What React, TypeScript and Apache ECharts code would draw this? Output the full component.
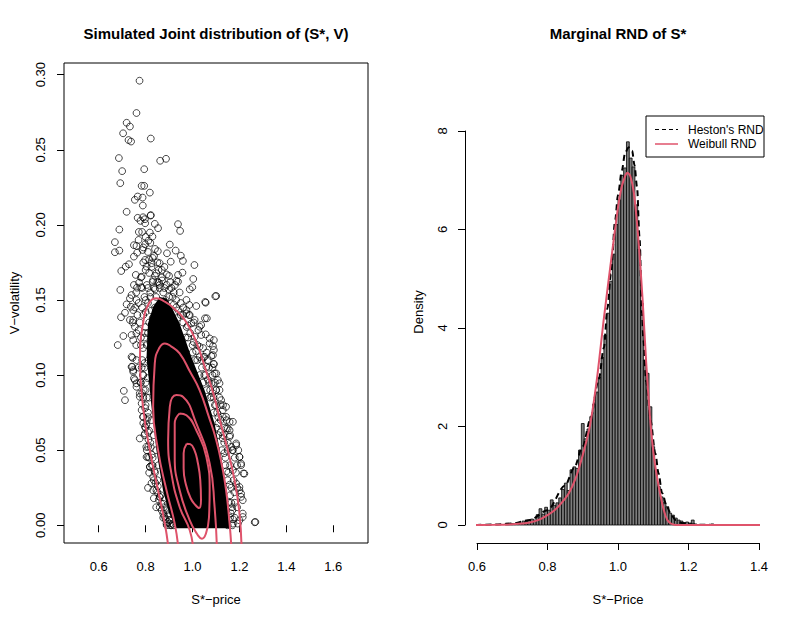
import React, { useEffect, useRef } from "react";
import * as echarts from "echarts";

const FONT = '"Liberation Sans", Arial, Helvetica, sans-serif';
const RED = "#DF536B";

// ---------- Left panel: joint distribution ----------
const jointXTicks = [0.6, 0.8, 1.0, 1.2, 1.4, 1.6];
const jointYTicks = [0, 0.05, 0.1, 0.15, 0.2, 0.25, 0.3];

const scatterPoints: [number, number][] = [
  [0.774, 0.296], [0.761, 0.2745], [0.719, 0.268], [0.733, 0.2655], [0.704, 0.261], [0.727, 0.2565], [0.738, 0.2555],
  [0.822, 0.2575], [0.686, 0.2445], [0.862, 0.2427], [0.887, 0.244], [0.7, 0.2358], [0.794, 0.2371], [0.692, 0.2278],
  [0.783, 0.226], [0.794, 0.226], [0.818, 0.2215], [0.766, 0.2189], [0.787, 0.2182], [0.754, 0.2167], [0.788, 0.2129],
  [0.719, 0.2087], [0.766, 0.2047], [0.797, 0.2038], [0.822, 0.2065],
  [0.789, 0.2051], [0.821, 0.2062], [0.798, 0.2011], [0.778, 0.2027], [0.839, 0.2007], [0.853, 0.1978], [0.938, 0.2005],
  [0.947, 0.196], [0.688, 0.1969], [0.771, 0.1953], [0.785, 0.1953], [0.818, 0.1949], [0.829, 0.1922], [0.812, 0.1895],
  [0.798, 0.1871], [0.669, 0.1885], [0.669, 0.1818], [0.688, 0.1829], [0.75, 0.1865], [0.761, 0.186], [0.787, 0.1833],
  [0.764, 0.1815], [0.75, 0.1789], [0.903, 0.1869], [0.891, 0.1811], [0.928, 0.1829], [0.95, 0.1795], [0.959, 0.176],
  [0.907, 0.1755], [1.008, 0.1733], [0.852, 0.1825], [0.836, 0.1793], [0.815, 0.1771], [0.826, 0.1745], [0.804, 0.1722],
  [0.798, 0.1767], [0.729, 0.1738], [0.715, 0.1722], [0.696, 0.1693], [0.86, 0.1745], [0.869, 0.17], [0.846, 0.1678],
  [0.832, 0.1633], [0.857, 0.1615], [0.938, 0.1667], [0.957, 0.1682], [0.931, 0.1627], [0.938, 0.1622], [1.003, 0.164],
  [0.988, 0.1571], [0.999, 0.1585], [1.054, 0.1487], [1.097, 0.1525], [0.758, 0.1667], [0.783, 0.1655], [0.772, 0.1615],
  [0.763, 0.1582], [0.781, 0.1585], [0.692, 0.1567], [0.733, 0.1511], [0.719, 0.1471], [0.712, 0.1415], [0.695, 0.1385],
  [0.737, 0.1455], [0.747, 0.1367], [0.705, 0.126], [0.681, 0.12], [0.74, 0.1267], [0.744, 0.1115], [0.74, 0.1055],
  [0.974, 0.15], [0.986, 0.1467], [1.016, 0.146], [0.974, 0.1433], [0.988, 0.14], [1.009, 0.1367], [1.053, 0.1378],
  [1.037, 0.1333], [1.056, 0.1271], [1.073, 0.1244], [1.091, 0.1233], [1.087, 0.1193], [1.091, 0.1167], [1.08, 0.1127],
  [1.09, 0.1075],
  [0.707, 0.0895], [0.712, 0.0833], [0.743, 0.1055], [0.747, 0.1022], [0.75, 0.0978], [0.761, 0.0945], [0.775, 0.0878],
  [0.783, 0.0811], [0.79, 0.0722], [0.797, 0.0655], [0.775, 0.0578], [0.803, 0.0522], [0.81, 0.0455], [0.818, 0.0389],
  [0.81, 0.0249], [0.832, 0.0233], [0.86, 0.0189], [0.867, 0.0144], [0.896, 0.0067], [0.903, 0.0011], [0.875, 0.0078],
  [1.091, 0.1073], [1.094, 0.1011], [1.115, 0.0945], [1.101, 0.09], [1.08, 0.0855], [1.129, 0.0767], [1.143, 0.0722],
  [1.172, 0.0689], [1.15, 0.0645], [1.158, 0.0589], [1.186, 0.0545], [1.172, 0.05], [1.2, 0.0455], [1.207, 0.0411],
  [1.217, 0.0345], [1.2, 0.0255], [1.207, 0.0211], [1.214, 0.0167], [1.214, 0.0078], [1.2, 0.0033], [1.265, 0.002],
  [1.172, 0.0011],
  [0.74, 0.1533], [0.761, 0.15], [0.747, 0.1433], [0.733, 0.1367], [0.754, 0.1322], [0.761, 0.1278], [0.747, 0.1233],
  [0.74, 0.1122], [0.761, 0.11], [0.747, 0.1033], [0.754, 0.0967], [0.761, 0.0922], [0.775, 0.0856], [0.783, 0.0767],
  [0.789, 0.0722], [0.797, 0.0611], [0.811, 0.0522], [0.804, 0.0455], [0.818, 0.0389], [0.832, 0.0322], [0.846, 0.0233],
  [0.86, 0.0189], [0.874, 0.0144], [0.889, 0.01], [0.903, 0.0033], [0.889, 0.0011],
  [0.79, 0.1], [0.8, 0.09], [0.81, 0.075], [0.795, 0.105], [0.805, 0.12], [0.815, 0.135], [0.78, 0.12], [0.77, 0.13],
  [0.82, 0.055], [0.83, 0.045], [0.84, 0.035], [0.85, 0.03], [0.865, 0.02], [0.88, 0.006], [0.91, 0.0], [0.9, 0.008],
  [0.855, 0.04], [0.845, 0.05], [0.835, 0.06], [0.825, 0.07], [0.815, 0.085], [0.808, 0.098], [0.812, 0.11],
  [0.79, 0.085], [0.8, 0.065], [0.785, 0.11],
  [1.101, 0.1527], [1.056, 0.1482], [1.061, 0.1378], [1.03, 0.1322], [1.037, 0.1267], [1.073, 0.1211], [1.087, 0.1133],
  [1.059, 0.1055], [1.108, 0.0967], [1.115, 0.09], [1.143, 0.0789], [1.129, 0.0722], [1.158, 0.0689], [1.143, 0.0645],
  [1.186, 0.0533], [1.2, 0.0455], [1.207, 0.04], [1.221, 0.0344], [1.2, 0.0233], [1.207, 0.0189], [1.214, 0.0055],
  [1.193, 0.0011], [1.268, 0.0022], [1.158, 0.0633], [1.165, 0.0522], [1.172, 0.0367], [1.186, 0.0278], [1.122, 0.0833],
  [1.101, 0.1011], [1.08, 0.0945], [1.051, 0.1122], [1.03, 0.1189], [1.009, 0.1255], [0.995, 0.1344], [0.974, 0.1411],
  [1.17, 0.01], [1.18, 0.005], [1.165, 0.015], [1.175, 0.03], [1.16, 0.04], [1.15, 0.05], [1.13, 0.06], [1.12, 0.07],
  [1.1, 0.08], [1.09, 0.085], [1.07, 0.095], [1.05, 0.1], [1.02, 0.11], [1.0, 0.12], [0.98, 0.125], [0.96, 0.135],
  [1.04, 0.105], [1.19, 0.012], [1.18, 0.045], [1.135, 0.055], [1.11, 0.072], [1.085, 0.1], [1.06, 0.115],
  [0.77, 0.19], [0.79, 0.185], [0.8, 0.192], [0.81, 0.182], [0.82, 0.188], [0.83, 0.178], [0.84, 0.184], [0.85, 0.175],
  [0.79, 0.175], [0.8, 0.17], [0.815, 0.168], [0.825, 0.172], [0.84, 0.166], [0.855, 0.17], [0.87, 0.165], [0.88, 0.172],
  [0.89, 0.16], [0.9, 0.166], [0.91, 0.158], [0.92, 0.155], [0.93, 0.15], [0.78, 0.165], [0.785, 0.158], [0.795, 0.152],
  [0.805, 0.16], [0.82, 0.155], [0.835, 0.158], [0.845, 0.152], [0.86, 0.158], [0.875, 0.155], [0.885, 0.15], [0.9, 0.152],
  [0.77, 0.148], [0.765, 0.14], [0.775, 0.135], [0.785, 0.145], [0.8, 0.142], [0.81, 0.148], [0.825, 0.143], [0.83, 0.138],
  [0.84, 0.145], [0.8, 0.132], [0.795, 0.125], [0.81, 0.128], [0.82, 0.122], [0.94, 0.143], [0.95, 0.14], [0.96, 0.145],
  [0.92, 0.147], [0.935, 0.138], [0.98, 0.133], [0.99, 0.128], [0.97, 0.125], [1.0, 0.115], [1.01, 0.11], [1.02, 0.12],
  [1.03, 0.1], [1.045, 0.095], [1.06, 0.09], [1.075, 0.085], [1.09, 0.075], [1.1, 0.065], [1.11, 0.06], [1.125, 0.05],
  [1.14, 0.04], [1.15, 0.03], [1.155, 0.015], [1.16, 0.005], [0.75, 0.16], [0.76, 0.155], [0.755, 0.145], [0.745, 0.135],
  [0.76, 0.12], [0.77, 0.105], [0.78, 0.095], [0.785, 0.088], [0.8, 0.08], [0.805, 0.07], [0.81, 0.062], [0.815, 0.045],
  [0.825, 0.04], [0.835, 0.03], [0.85, 0.022], [0.86, 0.012], [0.875, 0.005], [0.89, 0.0], [0.905, 0.0], [0.92, 0.0],
  [1.15, 0.0], [1.17, 0.0], [1.18, 0.015], [1.19, 0.025], [1.165, 0.025], [1.17, 0.05], [1.15, 0.055], [1.135, 0.065],
  [1.12, 0.08], [1.1, 0.09], [1.085, 0.105], [1.065, 0.11], [1.045, 0.118], [1.025, 0.13], [1.005, 0.135], [0.985, 0.14],
  [0.79, 0.14], [0.797, 0.128], [0.789, 0.118], [0.795, 0.108], [0.788, 0.1], [0.8, 0.095], [0.792, 0.09], [0.805, 0.085],
  [0.798, 0.078], [0.81, 0.072], [0.803, 0.067], [0.815, 0.063], [0.812, 0.057], [0.822, 0.052], [0.826, 0.047],
  [0.83, 0.04], [0.838, 0.036], [0.842, 0.028], [0.852, 0.026], [0.856, 0.017], [0.868, 0.01], [0.878, 0.012],
  [0.885, 0.004], [0.895, 0.002], [0.915, 0.001], [0.78, 0.125], [0.783, 0.105], [0.778, 0.095], [0.79, 0.068],
  [0.795, 0.06], [0.805, 0.05], [0.815, 0.035], [0.825, 0.028], [0.835, 0.018], [0.845, 0.012],
  [0.8, 0.15], [0.82, 0.152], [0.84, 0.157], [0.86, 0.16], [0.88, 0.158], [0.9, 0.157], [0.915, 0.152], [0.93, 0.145],
  [0.95, 0.148], [0.96, 0.14], [0.975, 0.132], [0.85, 0.162], [0.87, 0.163], [0.89, 0.167], [0.81, 0.158], [0.83, 0.162],
  [0.905, 0.162], [0.925, 0.16], [0.945, 0.155],
  [1.005, 0.122], [1.015, 0.116], [1.03, 0.112], [1.04, 0.11], [1.055, 0.1], [1.065, 0.097], [1.075, 0.09],
  [1.085, 0.088], [1.095, 0.08], [1.105, 0.075], [1.11, 0.068], [1.12, 0.062], [1.128, 0.058], [1.135, 0.048],
  [1.14, 0.045], [1.145, 0.036], [1.152, 0.035], [1.158, 0.027], [1.16, 0.02], [1.168, 0.012], [1.172, 0.004],
  [1.163, 0.008], [1.178, 0.022], [1.185, 0.035], [1.19, 0.04], [1.195, 0.05], [1.16, 0.06], [1.145, 0.07],
  [1.13, 0.08], [1.115, 0.085], [1.095, 0.095], [1.07, 0.105], [1.048, 0.112],
];

// outline of the saturated (solid black) region of overlapping points
const denseCore: [number, number][] = [
  [0.832, 0.1455], [0.86, 0.152], [0.89, 0.151], [0.91, 0.1455], [0.945, 0.1344], [0.995, 0.112], [1.051, 0.09],
  [1.094, 0.0678], [1.122, 0.0455], [1.143, 0.0233], [1.158, -0.002], [0.931, -0.002], [0.9, 0.008],
  [0.874, 0.0233], [0.846, 0.05], [0.825, 0.079], [0.804, 0.112], [0.81, 0.1344],
];

const contour1: [number, number][] = [
  [0.898, -0.016], [0.882, 0.001], [0.853, 0.0233], [0.818, 0.05], [0.789, 0.0789], [0.776, 0.11], [0.789, 0.1344],
  [0.815, 0.148], [0.846, 0.1511], [0.88, 0.149], [0.92, 0.1445], [0.97, 0.136], [1.016, 0.122], [1.055, 0.104],
  [1.09, 0.087], [1.12, 0.068], [1.15, 0.05], [1.179, 0.03], [1.2, 0.008], [1.209, -0.016],
];
const contour2: [number, number][] = [
  [0.94, -0.016], [0.924, 0.0011], [0.889, 0.0233], [0.853, 0.05], [0.832, 0.0789], [0.839, 0.1078], [0.858, 0.118],
  [0.882, 0.1211], [0.91, 0.119], [0.945, 0.1144], [0.99, 0.102], [1.03, 0.09], [1.07, 0.072], [1.101, 0.0567],
  [1.125, 0.04], [1.143, 0.0233], [1.158, 0.0011], [1.166, -0.016],
];
const contour3: [number, number][] = [
  [1.003, -0.016], [0.988, -0.0033], [0.945, 0.0122], [0.91, 0.0344], [0.896, 0.0567], [0.903, 0.0789],
  [0.931, 0.0867], [0.959, 0.0856], [1.016, 0.0678], [1.073, 0.0411], [1.094, 0.0122], [1.104, -0.016],
];
const contour4: [number, number][] = [
  [0.945, 0.0745], [0.974, 0.0733], [1.016, 0.0633], [1.059, 0.0455], [1.073, 0.0233], [1.07, 0.005],
  [1.056, -0.006], [1.04, -0.0089], [1.02, -0.006], [0.988, 0.0033], [0.945, 0.0233], [0.924, 0.0455],
  [0.924, 0.0678], [0.945, 0.0745],
];
const contour5: [number, number][] = [
  [0.975, 0.0543], [0.962, 0.048], [0.962, 0.038], [0.972, 0.027], [0.992, 0.018], [1.012, 0.0135], [1.028, 0.0115],
  [1.036, 0.017], [1.033, 0.03], [1.022, 0.042], [1.008, 0.05], [0.99, 0.054], [0.975, 0.0543],
];
const contours = [contour1, contour2, contour3, contour4, contour5];

// ---------- Right panel: marginal density ----------
const histStart = 0.68;
const histWidth = 0.008;
const histDensity = [
  0.03, 0.02, 0.03, 0.02, 0.04, 0.03, 0.08, 0.07, 0.09, 0.12,
  0.1, 0.21, 0.33, 0.22, 0.36, 0.3, 0.51, 0.4, 0.45, 0.55,
  0.72, 0.85, 0.7, 1.12, 1.18, 1.15, 1.52, 2.06, 1.75, 1.95,
  2.2, 2.45, 2.7, 3.0, 3.4, 3.85, 4.3, 4.95, 5.5, 6.1,
  6.6, 7.1, 7.25, 7.78, 7.45, 7.27, 6.5, 5.6, 4.5, 3.35,
  3.08, 2.4, 1.59, 1.12, 0.78, 0.57, 0.45, 0.37, 0.24, 0.2,
  0.14, 0.1, 0.08, 0.05, 0.06, 0.04, 0.1, 0.02, 0.01, 0,
  0, 0, 0, 0.02,
];
const hestonCurve: [number, number][] = [
  [0.567, 0], [0.6, 0.002], [0.65, 0.01], [0.7, 0.03], [0.75, 0.1], [0.8, 0.3], [0.85, 0.8], [0.875, 1.15],
  [0.9, 1.6], [0.921, 2.13], [0.945, 2.94], [0.96, 3.6], [0.97, 4.4], [0.98, 5.1], [0.992, 6.19], [1.0, 6.7],
  [1.011, 7.2], [1.02, 7.55], [1.03, 7.67], [1.04, 7.6], [1.047, 7.3], [1.054, 6.86], [1.061, 5.85], [1.068, 4.3],
  [1.072, 3.75], [1.08, 2.9], [1.092, 2.13], [1.106, 1.45], [1.115, 1.05], [1.125, 0.65], [1.139, 0.37],
  [1.15, 0.22], [1.163, 0.1], [1.18, 0.04], [1.2, 0.015], [1.25, 0.003], [1.3, 0], [1.432, 0],
];
const weibullCurve: [number, number][] = [
  [0.567, 0], [0.65, 0.004], [0.7, 0.015], [0.75, 0.05], [0.78, 0.12], [0.8, 0.2], [0.82, 0.3], [0.84, 0.45],
  [0.86, 0.64], [0.88, 0.95], [0.9, 1.42], [0.92, 2.0], [0.94, 2.95], [0.96, 4.2], [0.98, 5.35], [1.0, 6.45],
  [1.01, 6.85], [1.02, 7.08], [1.027, 7.15], [1.035, 7.08], [1.045, 6.75], [1.053, 6.2], [1.06, 5.6], [1.07, 4.55],
  [1.08, 3.3], [1.09, 2.25], [1.1, 1.5], [1.11, 1.0], [1.12, 0.62], [1.13, 0.3], [1.14, 0.1], [1.15, 0.03],
  [1.16, 0.005], [1.17, 0], [1.432, 0],
];
const densityXTicks = [0.6, 0.8, 1.0, 1.2, 1.4];
const densityYTicks = [0, 2, 4, 6, 8];

const labelStyle = { color: "#000", fontSize: 13, fontFamily: FONT };
const tickStyle = { color: "#000", width: 1 };

function buildOption(): any {
  const contourSeries = contours.map((c) => ({
    type: "line",
    xAxisIndex: 0,
    yAxisIndex: 0,
    data: c,
    smooth: 0.5,
    showSymbol: false,
    symbol: "none",
    silent: true,
    z: 5,
    lineStyle: { color: RED, width: 2 },
  }));

  return {
    animation: false,
    backgroundColor: "#fff",
    textStyle: { fontFamily: FONT },
    grid: [
      { left: 64, top: 63, width: 304, height: 480, show: true, borderColor: "#000", borderWidth: 1, backgroundColor: "transparent", containLabel: false },
      { left: 477, top: 131, width: 282, height: 394, show: false, containLabel: false },
    ],
    xAxis: [
      {
        type: "value", gridIndex: 0, min: 0.452, max: 1.748,
        axisLine: { show: false },
        axisTick: { show: true, length: 7, customValues: jointXTicks, lineStyle: tickStyle },
        axisLabel: { ...labelStyle, margin: 17, customValues: jointXTicks, formatter: (v: number) => v.toFixed(1) },
        splitLine: { show: false },
      },
      {
        type: "value", gridIndex: 1, min: 0.6, max: 1.4, interval: 0.2, offset: 18,
        axisLine: { show: true, onZero: false, lineStyle: tickStyle },
        axisTick: { show: true, length: 7, customValues: densityXTicks, lineStyle: tickStyle },
        axisLabel: { ...labelStyle, margin: 17, customValues: densityXTicks, formatter: (v: number) => v.toFixed(1) },
        splitLine: { show: false },
      },
    ],
    yAxis: [
      {
        type: "value", gridIndex: 0, min: -0.0118, max: 0.3078,
        axisLine: { show: false },
        axisTick: { show: true, length: 7, customValues: jointYTicks, lineStyle: tickStyle },
        axisLabel: { ...labelStyle, margin: 17, rotate: 90, customValues: jointYTicks, formatter: (v: number) => v.toFixed(2) },
        splitLine: { show: false },
      },
      {
        type: "value", gridIndex: 1, min: 0, max: 8, interval: 2, offset: 12,
        axisLine: { show: true, onZero: false, lineStyle: tickStyle },
        axisTick: { show: true, length: 7, customValues: densityYTicks, lineStyle: tickStyle },
        axisLabel: { ...labelStyle, margin: 16, rotate: 90, customValues: densityYTicks, formatter: (v: number) => String(v) },
        splitLine: { show: false },
      },
    ],
    series: [
      {
        type: "custom",
        xAxisIndex: 0,
        yAxisIndex: 0,
        silent: true,
        z: 1,
        data: [[1, 0.05]],
        renderItem: (_params: any, api: any) => ({
          type: "polygon",
          shape: { points: denseCore.map((p) => api.coord(p)) },
          style: { fill: "#000" },
        }),
      },
      {
        type: "scatter",
        xAxisIndex: 0,
        yAxisIndex: 0,
        data: scatterPoints,
        symbol: "circle",
        symbolSize: 6.8,
        silent: true,
        z: 2,
        itemStyle: { color: "rgba(0,0,0,0)", borderColor: "#000", borderWidth: 0.9 },
      },
      ...contourSeries,
      {
        type: "custom",
        xAxisIndex: 1,
        yAxisIndex: 1,
        silent: true,
        z: 2,
        data: histDensity.map((d, i) => [histStart + i * histWidth, d]),
        renderItem: (_params: any, api: any) => {
          const x0 = api.value(0);
          const h = api.value(1);
          const a = api.coord([x0, h]);
          const b = api.coord([x0 + histWidth, 0]);
          return {
            type: "rect",
            shape: { x: a[0], y: a[1], width: b[0] - a[0], height: b[1] - a[1] },
            style: { fill: "#7d7d7d", stroke: "#000", lineWidth: 0.8 },
          };
        },
      },
      {
        type: "line",
        xAxisIndex: 1,
        yAxisIndex: 1,
        data: hestonCurve,
        smooth: 0.3,
        smoothMonotone: "x",
        showSymbol: false,
        symbol: "none",
        clip: false,
        silent: true,
        z: 4,
        lineStyle: { color: "#000", width: 2, type: [6, 4] },
      },
      {
        type: "line",
        xAxisIndex: 1,
        yAxisIndex: 1,
        data: weibullCurve,
        smooth: 0.25,
        showSymbol: false,
        symbol: "none",
        clip: false,
        silent: true,
        z: 5,
        lineStyle: { color: RED, width: 2 },
      },
    ],
    graphic: [
      { type: "text", x: 216, y: 33, z: 10, style: { text: "Simulated Joint distribution of (S*, V)", font: `bold 15px ${FONT}`, fill: "#000", align: "center", verticalAlign: "middle" } },
      { type: "text", x: 618, y: 33, z: 10, style: { text: "Marginal RND of S*", font: `bold 15px ${FONT}`, fill: "#000", align: "center", verticalAlign: "middle" } },
      { type: "text", x: 216, y: 599, z: 10, style: { text: "S*\u2212price", font: `13px ${FONT}`, fill: "#000", align: "center", verticalAlign: "middle" } },
      { type: "text", x: 618, y: 599, z: 10, style: { text: "S*\u2212Price", font: `13px ${FONT}`, fill: "#000", align: "center", verticalAlign: "middle" } },
      { type: "text", x: 14, y: 303, rotation: Math.PI / 2, z: 10, style: { text: "V\u2212volatility", font: `13px ${FONT}`, fill: "#000", align: "center", verticalAlign: "middle" } },
      { type: "text", x: 418, y: 312, rotation: Math.PI / 2, z: 10, style: { text: "Density", font: `13px ${FONT}`, fill: "#000", align: "center", verticalAlign: "middle" } },
      { type: "rect", z: 10, shape: { x: 646, y: 116, width: 118, height: 41 }, style: { fill: "#fff", stroke: "#000", lineWidth: 1 } },
      { type: "line", z: 11, shape: { x1: 655, y1: 129.5, x2: 678, y2: 129.5 }, style: { stroke: "#000", lineWidth: 1.2, lineDash: [4, 3] } },
      { type: "line", z: 11, shape: { x1: 655, y1: 144, x2: 678, y2: 144 }, style: { stroke: RED, lineWidth: 1.5 } },
      { type: "text", x: 688, y: 129.5, z: 11, style: { text: "Heston's RND", font: `12px ${FONT}`, fill: "#000", align: "left", verticalAlign: "middle" } },
      { type: "text", x: 688, y: 144, z: 11, style: { text: "Weibull RND", font: `12px ${FONT}`, fill: "#000", align: "left", verticalAlign: "middle" } },
    ],
  };
}

export default function App() {
  const ref = useRef<HTMLDivElement>(null);
  useEffect(() => {
    if (!ref.current) return;
    const chart = echarts.init(ref.current, null, { renderer: "svg" });
    chart.setOption(buildOption());
    return () => chart.dispose();
  }, []);
  return (
    <div
      ref={ref}
      style={{ position: "fixed", left: 0, top: 0, width: 803, height: 623, background: "#fff" }}
    />
  );
}
